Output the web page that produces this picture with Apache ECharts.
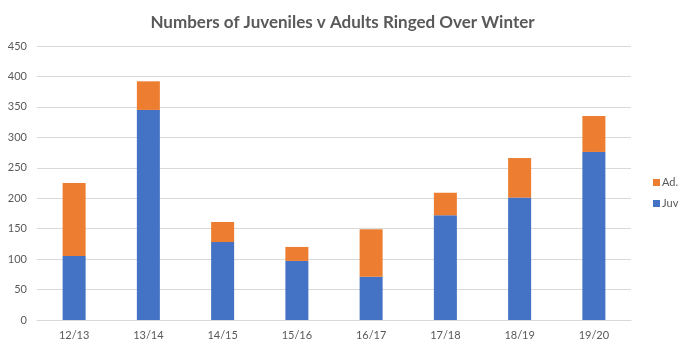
<!DOCTYPE html>
<html><head><meta charset="utf-8">
<script src="https://cdn.jsdelivr.net/npm/echarts@6/dist/echarts.min.js"></script>
<style>html,body{margin:0;padding:0;background:#fff}#c{width:685px;height:347px}</style>
</head><body><div id="c"></div>
<script>
const categories = ['12/13','13/14','14/15','15/16','16/17','17/18','18/19','19/20'];
const juv = [105, 345, 128, 97, 71, 172, 201, 276];
const adults = [120, 47, 33, 23, 78, 37, 65, 59];
const chart = echarts.init(document.getElementById('c'));
const font = 'Lato, "Open Sans", sans-serif';
chart.setOption({
  animation: false,
  title: {text: 'Numbers of Juveniles v Adults Ringed Over Winter', left: 'center', top: 9,
    textStyle: {fontFamily: font, fontSize: 17, fontWeight: 'bold', color: '#595959'}},
  legend: {orient: 'vertical', left: 648, top: 172, itemWidth: 7, itemHeight: 7, itemGap: 10,
    data: ['Ad.', 'Juv'], icon: 'rect',
    textStyle: {fontFamily: font, fontSize: 11, color: '#595959', padding: [0,0,0,-3]}},
  grid: {left: 37, right: 54, top: 46, bottom: 27},
  xAxis: {type: 'category', data: categories,
    axisLine: {lineStyle: {color: '#d9d9d9'}}, axisTick: {show: false},
    axisLabel: {fontFamily: font, fontSize: 11, color: '#595959', margin: 10}},
  yAxis: {type: 'value', min: 0, max: 450, interval: 50,
    axisLine: {show: false}, axisTick: {show: false},
    splitLine: {lineStyle: {color: '#d9d9d9'}},
    axisLabel: {fontFamily: font, fontSize: 11, color: '#595959', margin: 10}},
  series: [
    {name: 'Juv', type: 'bar', stack: 't', data: juv, barWidth: 23, itemStyle: {color: '#4472c4'}},
    {name: 'Ad.', type: 'bar', stack: 't', data: adults, barWidth: 23, itemStyle: {color: '#ed7d31'}}
  ]
});
</script></body></html>
